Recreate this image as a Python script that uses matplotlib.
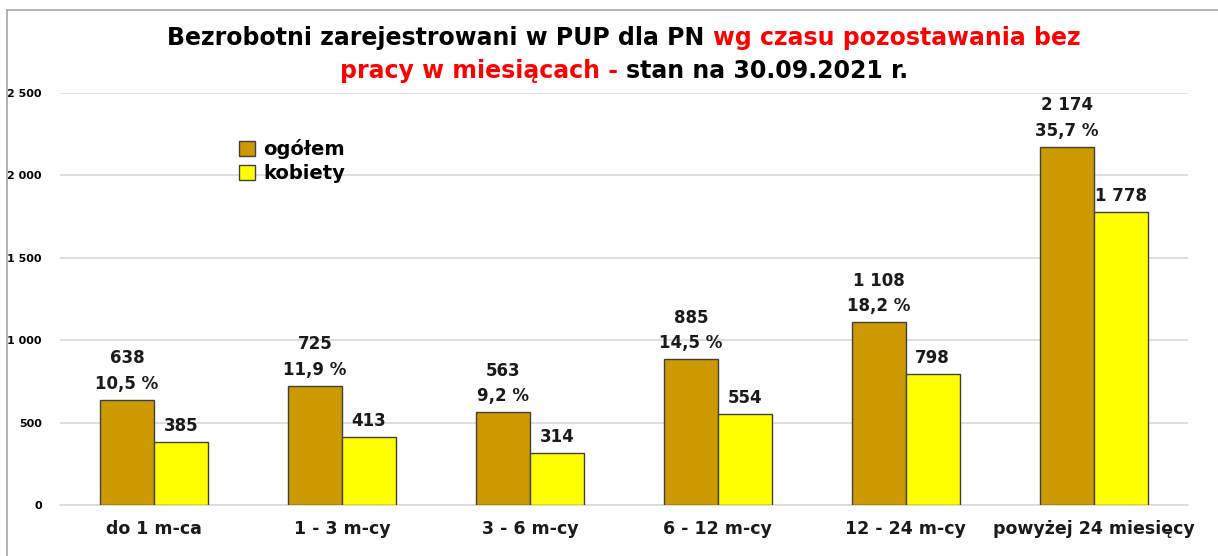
import numpy as np
import matplotlib.pyplot as plt
from matplotlib.patches import Rectangle
from matplotlib.ticker import FuncFormatter

# data
categories = ['do 1 m-ca', '1 - 3 m-cy', '3 - 6 m-cy', '6 - 12 m-cy',
              '12 - 24 m-cy', 'powyżej 24 miesięcy']
ogolem = [638, 725, 563, 885, 1108, 2174]
kobiety = [385, 413, 314, 554, 798, 1778]
udzial = ['10,5', '11,9', '9,2', '14,5', '18,2', '35,7']


def fmt_num(v):
    return f'{int(v):,}'.replace(',', ' ')


fig = plt.figure(figsize=(12.18, 5.56), dpi=100)
ax = fig.add_axes([0.0493, 0.0917, 0.9257, 0.741])

x = np.arange(len(categories))
w = 0.287
ax.bar(x - w / 2, ogolem, w, color='#CC9900', edgecolor='#404040',
       linewidth=1, label='ogółem', zorder=3)
ax.bar(x + w / 2, kobiety, w, color='#FFFF00', edgecolor='#404040',
       linewidth=1, label='kobiety', zorder=3)

# labels above bars
for xi, v, p in zip(x, ogolem, udzial):
    ax.annotate(f'{fmt_num(v)}\n{p} %', (xi - w / 2, v), xytext=(0, 5),
                textcoords='offset points', ha='center', va='bottom',
                fontsize=12, fontweight='bold', color='#1a1a1a',
                linespacing=1.55)
for xi, v in zip(x, kobiety):
    ax.annotate(fmt_num(v), (xi + w / 2, v), xytext=(0, 5),
                textcoords='offset points', ha='center', va='bottom',
                fontsize=12, fontweight='bold', color='#1a1a1a')

ax.set_xlim(-0.5, len(categories) - 0.5)
ax.set_ylim(0, 2500)
ax.set_yticks(np.arange(0, 2501, 500))
ax.yaxis.set_major_formatter(FuncFormatter(lambda v, _: fmt_num(v)))
ax.set_xticks(x)
ax.set_xticklabels(categories, fontsize=12.5, fontweight='bold', color='#1a1a1a')
for lab in ax.get_yticklabels():
    lab.set_fontsize(8)
    lab.set_fontweight('bold')
ax.tick_params(axis='y', length=0, pad=13)
ax.tick_params(axis='x', length=0, pad=11)
ax.grid(axis='y', color='#D9D9D9', linewidth=1.2, zorder=0)
for s in ['top', 'right', 'left']:
    ax.spines[s].set_visible(False)
ax.spines['bottom'].set_color('#D9D9D9')
ax.spines['bottom'].set_linewidth(1.2)

ax.legend(loc='upper left', bbox_to_anchor=(0.143, 0.93), frameon=False,
          prop={'size': 14, 'weight': 'bold'}, handlelength=0.85,
          handleheight=0.85, handletextpad=0.4, labelspacing=0.25)

# outer frame of the chart
fig.patches.append(Rectangle((7 / 1218, -0.01), 1.2, 1 - 10 / 556 + 0.01,
                             transform=fig.transFigure, fill=False,
                             edgecolor='#A6A6A6', linewidth=1.2))

# two-line title with red part
title_font = dict(fontsize=17, fontweight='bold')
lines = [[('Bezrobotni zarejestrowani w PUP dla PN ', 'black'),
          ('wg czasu pozostawania bez', '#FF0000')],
         [('pracy w miesiącach - ', '#FF0000'),
          ('stan na 30.09.2021 r.', 'black')]]
ys = [1 - 38 / 556, 1 - 71 / 556]
renderer = fig.canvas.get_renderer()
for parts, yy in zip(lines, ys):
    texts = [fig.text(0, yy, s, color=c, va='center', ha='left', **title_font)
             for s, c in parts]
    widths = [t.get_window_extent(renderer).width / fig.bbox.width for t in texts]
    x0 = 0.5 * (60 + 1188) / 1218 - sum(widths) / 2
    for t, wd in zip(texts, widths):
        t.set_x(x0)
        x0 += wd

fig.savefig('out.png', dpi=100)
